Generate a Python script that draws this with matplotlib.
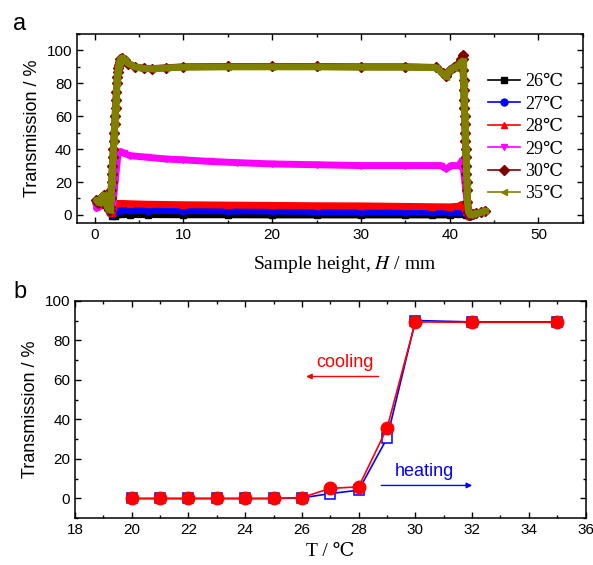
import matplotlib
matplotlib.use("Agg")
import matplotlib.pyplot as plt
from matplotlib.font_manager import FontProperties
from matplotlib.ticker import MultipleLocator

plt.rcParams['font.family'] = ['Liberation Sans', 'DejaVu Sans']
plt.rcParams['mathtext.fontset'] = 'stix'

SERIF = ['Liberation Serif', 'DejaVu Serif']

# ---- panel a: transmission profiles along the sample height ----
x_low = [0.2, 0.5, 0.8, 1.1, 1.4, 1.7, 2.0, 2.3, 2.6, 3.0, 4, 6, 10, 15, 20, 25, 30, 35, 38, 40,
         41.0, 41.4, 41.8, 42.2]
y_26 = [8, 6, 10, 11, 7, 2, -0.5, -0.5, 0.5, 0.3, 0.2, 0.2, 0.1, 0.1, 0.0, 0.0, 0.0, 0.0, 0.0, 0.0,
        0.3, 1.0, 0.2, -0.5]
y_27 = [8, 6, 10, 11, 7, 2, 0.5, 2.5, 3.0, 3.0, 2.8, 2.7, 2.6, 2.5, 2.4, 2.1, 2.0, 1.9, 1.8, 1.8,
        2.0, 3.0, 1.0, -0.5]
y_28 = [8, 6, 10, 11, 7, 2, 1.0, 6.5, 7.0, 7.0, 6.8, 6.5, 6.2, 6.0, 5.8, 5.6, 5.5, 5.2, 5.0, 4.9,
        5.3, 6.5, 2.0, -0.5]

x_29 = [0.2, 0.5, 0.8, 1.1, 1.4, 1.7, 2.0, 2.3, 2.6, 2.9, 3.3, 4, 6, 8, 10, 13, 16, 20, 25, 30, 35,
        39.0, 39.6, 40.2, 41.0, 41.4, 41.6, 41.8, 42.0, 42.2, 42.4]
y_29 = [4, 5, 9, 11, 7, 2, 3, 20, 36, 38.5, 37.5, 36, 35, 34, 33.5, 32.5, 31.8, 31, 30.5, 30, 30,
        30, 28, 30, 30, 33, 25, 15, 7, 2, 0]

x_hi = [0.2, 0.4, 0.6, 0.8, 1.0, 1.2, 1.4, 1.6, 1.7,
        1.75, 1.8, 1.85, 1.9, 1.95, 2.0, 2.05, 2.1, 2.15, 2.2,
        2.25, 2.3, 2.35, 2.4, 2.45, 2.5, 2.55, 2.6, 2.65, 2.7,
        2.8, 2.9, 3.1, 3.4, 3.8, 4.5, 5.5, 6.5, 8, 10,
        15, 20, 25, 30, 35, 38.5, 39.2, 39.6, 40.0, 40.5,
        41.0, 41.3, 41.45,
        41.5, 41.53, 41.56, 41.59, 41.62, 41.65, 41.68, 41.71,
        41.74, 41.77, 41.80, 41.83, 41.86, 41.89, 41.92, 41.95,
        42.0, 42.1, 42.3, 42.6, 43.0, 43.5, 44.0]
y_30 = [9, 7.5, 8, 11, 12, 9, 5, 3, 3,
        5, 10, 15, 20, 25, 30, 35, 40, 45, 50,
        55, 60, 65, 70, 75, 80, 84, 87, 89, 91,
        93, 94.5, 95.5, 94, 92, 90, 89.1, 88.9, 89.4, 90.0,
        90.2, 90.2, 90.2, 90.0, 90.0, 89.6, 86.5, 84.5, 88.2, 89.8,
        92, 95, 97,
        95, 88, 82, 76, 70, 65, 60, 55,
        50, 45, 40, 35, 30, 25, 20, 15,
        8, 2, 0, 0.5, 1, 1.5, 2.5]
y_35 = [9, 7.5, 8, 11, 12, 9, 5, 3, 3,
        5, 10, 15, 20, 25, 30, 35, 40, 45, 50,
        55, 60, 65, 70, 75, 80, 84, 87, 89, 91,
        93, 94.5, 95.5, 94, 92, 90, 89, 88.8, 89.3, 89.8,
        90, 90, 90, 89.8, 89.8, 89.5, 86, 84, 88, 89.5,
        91, 93, 93.5,
        90, 85, 80, 75, 70, 65, 60, 55,
        50, 45, 40, 35, 30, 25, 20, 15,
        8, 2, 0, 0.5, 1, 1.5, 2.5]

labels_a = ['26\u2103', '27\u2103', '28\u2103', '29\u2103', '30\u2103', '35\u2103']
colors_a = ['black', '#0000ff', '#ff0000', '#ff00ff', '#800000', '#808000']
markers_a = ['s', 'o', '^', 'v', 'D', '<']

# ---- panel b: transmission vs temperature ----
T = [20, 21, 22, 23, 24, 25, 26, 27, 28, 29, 30, 32, 35]
heating = [0, 0, 0, 0, 0, 0, 0.3, 2.5, 4.2, 30.5, 90, 89.3, 89.3]
cooling = [0, 0, 0, 0, 0, 0, 0.5, 5.1, 5.9, 35.6, 89.3, 89.1, 89.1]


def style_axes(ax):
    ax.tick_params(which='both', direction='in', top=True, right=True, labelsize=11, width=1)
    ax.tick_params(which='major', length=4.5)
    ax.tick_params(which='minor', length=2.5)
    for s in ax.spines.values():
        s.set_linewidth(1.1)


fig = plt.figure(figsize=(5.93, 5.65), dpi=100)

ax1 = fig.add_axes([0.1298, 0.605, 0.853, 0.335])
series = [(x_low, y_26), (x_low, y_27), (x_low, y_28), (x_29, y_29), (x_hi, y_30), (x_hi, y_35)]
handles = []
for (xs, ys), lab, col, mk in zip(series, labels_a, colors_a, markers_a):
    ax1.plot(xs, ys, color=col, lw=5, marker=mk, ms=5, mec=col, mfc=col,
             solid_joinstyle='round', solid_capstyle='round')
    h, = ax1.plot([], [], color=col, lw=1.2, marker=mk, ms=5, label=lab)
    handles.append(h)

ax1.set_xlim(-2, 55)
ax1.set_ylim(-5, 110)
ax1.xaxis.set_major_locator(MultipleLocator(10))
ax1.xaxis.set_minor_locator(MultipleLocator(5))
ax1.yaxis.set_major_locator(MultipleLocator(20))
ax1.yaxis.set_minor_locator(MultipleLocator(10))
style_axes(ax1)
ax1.set_ylabel('Transmission / %', fontsize=13)
ax1.set_xlabel('Sample height, $\\it{H}$ / mm', fontsize=14, fontfamily=SERIF)
ax1.xaxis.set_label_coords(0.53, -0.165)
ax1.legend(handles=handles, loc='upper right', bbox_to_anchor=(0.975, 0.83), frameon=False,
           prop=FontProperties(family=SERIF, size=13), handlelength=1.8, handletextpad=0.25,
           labelspacing=0.3, borderaxespad=0)
fig.text(0.022, 0.958, 'a', fontsize=17, va='center', ha='left')

ax2 = fig.add_axes([0.1265, 0.0827, 0.861, 0.385])
ax2.plot(T, heating, color='#0000ff', lw=1.2, marker='s', ms=7, mfc='white', mec='#0000ff', mew=1.1)
ax2.plot(T, cooling, color='#ff0000', lw=1.2, marker='o', ms=9, mfc='#ff0000', mec='#ff0000')
ax2.set_xlim(18, 36)
ax2.set_ylim(-10, 100)
ax2.xaxis.set_major_locator(MultipleLocator(2))
ax2.xaxis.set_minor_locator(MultipleLocator(1))
ax2.yaxis.set_major_locator(MultipleLocator(20))
ax2.yaxis.set_minor_locator(MultipleLocator(10))
style_axes(ax2)
ax2.set_ylabel('Transmission / %', fontsize=13)
ax2.set_xlabel('T / \u2103', fontsize=14, fontfamily=SERIF)

ax2.text(27.5, 68.7, 'cooling', color='#ff0000', fontsize=13, ha='center', va='center')
ax2.annotate('', xy=(26.05, 61.7), xytext=(28.8, 61.7),
             arrowprops=dict(arrowstyle='-|>', color='#ff0000', lw=1, mutation_scale=8))
ax2.text(30.3, 13.5, 'heating', color='#0000ff', fontsize=13, ha='center', va='center')
ax2.annotate('', xy=(32.1, 6.6), xytext=(28.7, 6.6),
             arrowprops=dict(arrowstyle='-|>', color='#0000ff', lw=1, mutation_scale=8))
fig.text(0.022, 0.483, 'b', fontsize=17, va='center', ha='left')

fig.savefig('out.png', dpi=100)
